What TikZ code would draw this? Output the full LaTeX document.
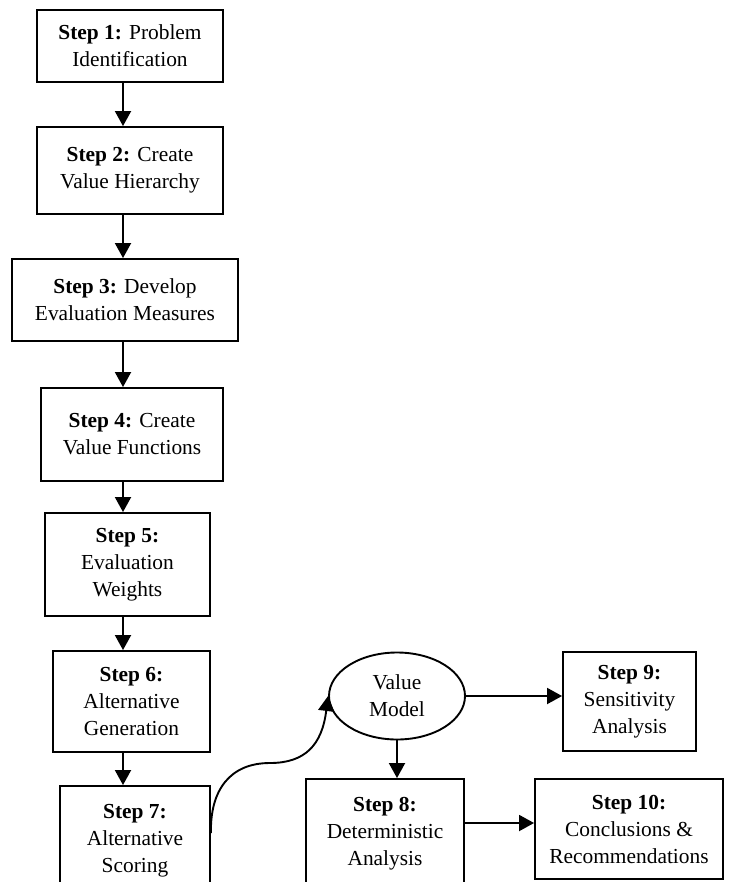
\documentclass[tikz,border=0pt]{standalone}
\usepackage{fontspec}
\setmainfont{Liberation Serif}
\usetikzlibrary{arrows.meta,shapes.geometric}

\tikzset{
	stepbox/.style={draw, line width=0.95pt, align=center, inner sep=0pt},
	arr/.style={line width=0.95pt, -{Triangle[length=7.5pt,width=8pt]}}
}

\begin{document}
\begin{tikzpicture}[x=0.5pt, y=-0.5pt, font=\fontsize{10.7}{13.5}\selectfont]
			%%%%% START %%%%%
			\useasboundingbox (0,0) rectangle (740,882);
			\clip (0,0) rectangle (740,882);
			\fill[white] (0,0) rectangle (740,882);
			\coordinate (col) at (123,0);
			
			\node[stepbox, minimum width=93pt, minimum height=36pt] (s1) at (130,46) {\textbf{Step 1:} Problem\\Identification};
			\node[stepbox, minimum width=93pt, minimum height=43.5pt] (s2) at (130,170.5) {\textbf{Step 2:} Create\\Value Hierarchy};
			\node[stepbox, minimum width=113pt, minimum height=41pt] (s3) at (125,300) {\textbf{Step 3:} Develop\\Evaluation Measures};
			\node[stepbox, minimum width=91pt, minimum height=46.5pt] (s4) at (132,434.5) {\textbf{Step 4:} Create\\Value Functions};
			\node[stepbox, minimum width=82.5pt, minimum height=51.5pt] (s5) at (127.5,564.5) {\textbf{Step 5:}\\Evaluation\\Weights};
			\node[stepbox, minimum width=78.5pt, minimum height=50.5pt] (s6) at (131.5,701.5) {\textbf{Step 6:}\\Alternative\\Generation};
			\node[stepbox, minimum width=75pt, minimum height=55pt] (s7) at (135,841) {\textbf{Step 7:}\\Alternative\\Scoring};
			
			\node[stepbox, ellipse, minimum width=68pt, minimum height=43.5pt] (v) at (397,696) {Value\\Model};
			\node[stepbox, minimum width=79pt, minimum height=55pt] (s8) at (385,834) {\textbf{Step 8:}\\Deterministic\\Analysis};
			\node[stepbox, minimum width=66.5pt, minimum height=49.5pt] (s9) at (629.5,701.5) {\textbf{Step 9:}\\Sensitivity\\Analysis};
			\node[stepbox, minimum width=94pt, minimum height=50pt] (s10) at (629,829) {\textbf{Step 10:}\\Conclusions \&\\Recommendations};
			
			\draw[arr] (s1.south -| col) -- (s2.north -| col);
			\draw[arr] (s2.south -| col) -- (s3.north -| col);
			\draw[arr] (s3.south -| col) -- (s4.north -| col);
			\draw[arr] (s4.south -| col) -- (s5.north -| col);
			\draw[arr] (s5.south -| col) -- (s6.north -| col);
			\draw[arr] (s6.south -| col) -- (s7.north -| col);
			
			\draw[arr] ([yshift=4pt]s7.east) .. controls (210,790) and (230,763) .. (270,763) .. controls (305,763) and (322,745) .. (v.west);
			\draw[arr] (v.south) -- (v.south |- s8.north);
			\draw[arr] (v.east) -- (v.east -| s9.west);
			\draw[arr] ([yshift=3pt]s10.west -| s8.east) -- ([yshift=3pt]s10.west);
			%%%%% END %%%%%
\end{tikzpicture}
\end{document}
